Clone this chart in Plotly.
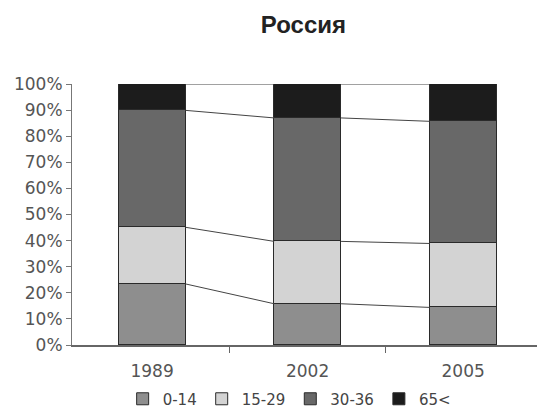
import plotly.graph_objects as go
import numpy as np

years = ["1989", "2002", "2005"]
age_groups = ["0-14", "15-29", "30-36", "65<"]
v_0_14 = [23.4, 15.8, 14.4]
v_15_29 = [21.7, 23.9, 24.5]
v_30_36 = [44.8, 47.3, 46.8]
v_65 = [10.1, 13.0, 14.3]
colors = ["#8e8e8e", "#d3d3d3", "#686868", "#1c1c1c"]

series = [v_0_14, v_15_29, v_30_36, v_65]
xs = np.arange(len(years))
bw = 0.43

fig = go.Figure()
for name, vals, col in zip(age_groups, series, colors):
    fig.add_trace(go.Bar(x=xs, y=vals, name=name, width=bw,
                         marker=dict(color=col, line=dict(color="#2a2a2a", width=1))))

cum = np.cumsum(np.array(series), axis=0)
for level in cum:
    lx, ly = [], []
    for i in range(len(years) - 1):
        lx += [xs[i] + bw / 2, xs[i + 1] - bw / 2, None]
        ly += [level[i], level[i + 1], None]
    fig.add_trace(go.Scatter(x=lx, y=ly, mode="lines", showlegend=False,
                             line=dict(color="#444444", width=1), hoverinfo="skip"))

fig.update_layout(
    barmode="stack",
    width=537, height=407,
    margin=dict(l=72, r=0, t=84, b=62, autoexpand=False),
    paper_bgcolor="white", plot_bgcolor="white",
    font=dict(family="DejaVu Sans", color="#555555", size=17),
    title=dict(text="<b>Россия</b>", x=0.565, xanchor="center", y=0.94, yanchor="middle",
               font=dict(family="Liberation Sans", size=24, color="#222222")),
    showlegend=True,
    legend=dict(orientation="h", x=0.467, xanchor="center", y=-0.207, yanchor="middle",
                font=dict(size=15, color="#444444"), itemwidth=30, tracegroupgap=0,
                traceorder="normal"),
    bargap=0,
)
fig.update_xaxes(range=[-0.515, 2.475], tickmode="array", tickvals=list(xs), ticktext=years,
                 ticks="", showline=True, linecolor="#666666", linewidth=2,
                 showgrid=False, zeroline=False, ticklabelstandoff=10,
                 minor=dict(tickmode="array", tickvals=[0.5, 1.5], ticks="outside",
                            ticklen=6, tickcolor="#666666", tickwidth=1))
fig.update_yaxes(range=[0, 100], tickmode="array", tickvals=list(range(0, 101, 10)),
                 ticktext=[f"{v}%" for v in range(0, 101, 10)],
                 ticks="outside", ticklen=5, tickcolor="#777777",
                 showline=True, linecolor="#777777", linewidth=1,
                 showgrid=False, zeroline=False)

fig.write_html("out.html", config={"displayModeBar": False},
               post_script="document.body.style.margin='0';")
